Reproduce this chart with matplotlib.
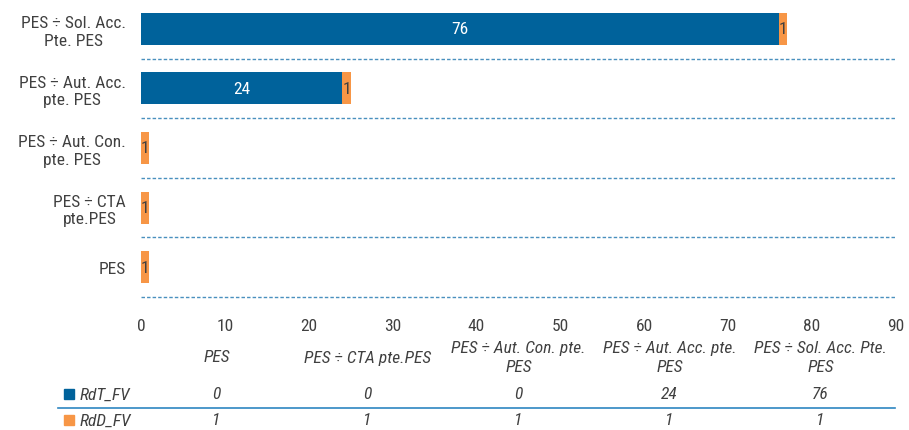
import matplotlib.pyplot as plt
import numpy as np
from matplotlib.patches import Rectangle
from matplotlib.lines import Line2D
from matplotlib import font_manager

names = {f.name for f in font_manager.fontManager.ttflist}
fam = [n for n in ['Liberation Sans Narrow', 'Roboto Condensed', 'Roboto'] if n in names]
plt.rcParams['font.family'] = fam + ['DejaVu Sans']

# categories bottom -> top
categories = ["PES", "PES ÷ CTA pte.PES", "PES ÷ Aut. Con. pte. PES",
              "PES ÷ Aut. Acc. pte. PES", "PES ÷ Sol. Acc. Pte. PES"]
axis_labels = ["PES", "PES ÷ CTA\npte.PES", "PES ÷ Aut. Con.\npte. PES",
               "PES ÷ Aut. Acc.\npte. PES", "PES ÷ Sol. Acc.\nPte. PES"]
table_headers = ["PES", "PES ÷ CTA pte.PES", "PES ÷ Aut. Con. pte.\nPES",
                 "PES ÷ Aut. Acc. pte.\nPES", "PES ÷ Sol. Acc. Pte.\nPES"]
rdt_fv = [0, 0, 0, 24, 76]
rdd_fv = [1, 1, 1, 1, 1]

blue = "#00629B"
orange = "#F79646"
grid_c = "#4A90BE"
txt = "#404040"
fs = 12.5

W, H = 909, 431
fig = plt.figure(figsize=(W / 100, H / 100), dpi=100)
ax = fig.add_axes([141 / W, 1 - 298 / H, 755 / W, 298 / H])

y = np.arange(len(categories))
b1 = ax.barh(y, rdt_fv, height=0.54, color=blue, label="RdT_FV")
b2 = ax.barh(y, rdd_fv, left=rdt_fv, height=0.54, color=orange, label="RdD_FV")
ax.bar_label(b1, labels=[str(v) if v else "" for v in rdt_fv],
             label_type='center', color='white', fontsize=fs)
ax.bar_label(b2, labels=[str(v) for v in rdd_fv],
             label_type='center', color=txt, fontsize=fs)

ax.set_xlim(0, 90)
ax.set_ylim(-0.5, len(categories) - 0.5)
ax.set_xticks(np.arange(0, 91, 10))
ax.set_yticks(y, axis_labels)
for lab in ax.get_yticklabels():
    lab.set_multialignment('center')

# dashed separators between categories
for b in np.arange(-0.5, len(categories) - 1, 1):
    ax.axhline(b, color=grid_c, linestyle=(0, (2.5, 1.5)), linewidth=1, clip_on=False)

ax.tick_params(axis='both', which='both', length=0, labelsize=fs, colors=txt)
ax.tick_params(axis='x', pad=15)
ax.tick_params(axis='y', pad=11)
for s in ax.spines.values():
    s.set_visible(False)

# data table below the chart
col_w = 755 / len(categories)
for i, h in enumerate(table_headers):
    cx = (141 + col_w * (i + 0.5)) / W
    fig.text(cx, 1 - 358 / H, h, ha='center', va='center', style='italic',
             fontsize=fs, color=txt, linespacing=1.3)
    fig.text(cx, 1 - 395 / H, str(rdt_fv[i]), ha='center', va='center',
             style='italic', fontsize=fs, color=txt)
    fig.text(cx, 1 - 421 / H, str(rdd_fv[i]), ha='center', va='center',
             style='italic', fontsize=fs, color=txt)

for yy, name, c in [(395, "RdT_FV", blue), (421, "RdD_FV", orange)]:
    fig.patches.append(Rectangle((64 / W, 1 - (yy + 5) / H), 10 / W, 10 / H,
                                 color=c, transform=fig.transFigure))
    fig.text(80 / W, 1 - yy / H, name, ha='left', va='center', style='italic',
             fontsize=fs, color=txt)

fig.lines.append(Line2D([58 / W, 895 / W], [1 - 409 / H, 1 - 409 / H],
                        color="#2E86C1", linewidth=1.2, transform=fig.transFigure))

fig.savefig("out.png", dpi=100)
